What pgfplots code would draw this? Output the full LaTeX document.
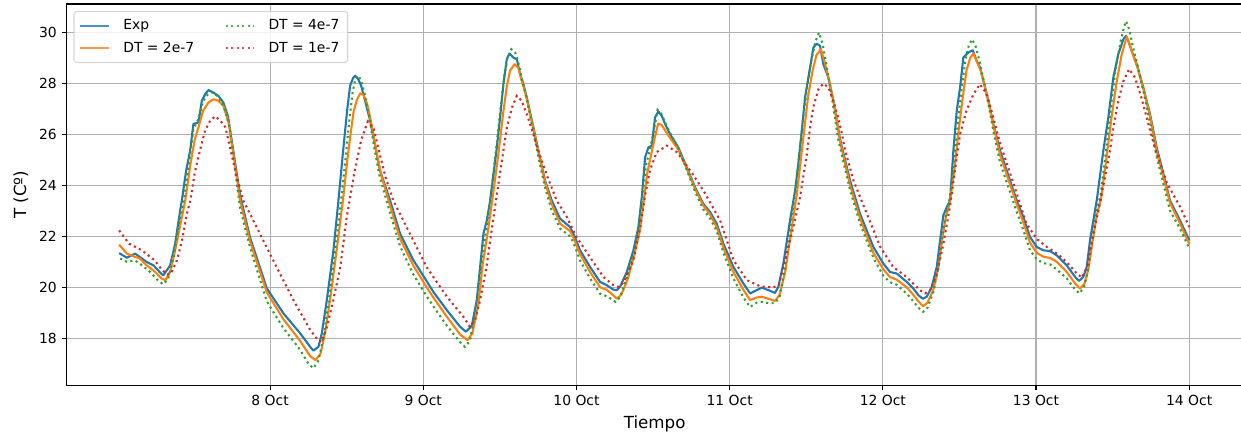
\documentclass[border=0pt]{standalone}
\usepackage{fontspec}
\setmainfont{DejaVu Sans}
\usepackage{pgfplots}
\usepackage{pgfplotstable}
\pgfplotsset{compat=1.18}
\definecolor{tabblue}{HTML}{1F77B4}
\definecolor{taborange}{HTML}{FF7F0E}
\definecolor{tabgreen}{HTML}{2CA02C}
\definecolor{tabred}{HTML}{D62728}
\definecolor{gridgray}{HTML}{B0B0B0}

% time in hours since 7 Oct 00:00, temperature in C
\pgfplotstableread{
h T
0.34 21.34
1.55 21.16
2.85 21.32
4.68 20.99
5.72 20.86
7.03 20.51
7.28 20.47
8.33 20.86
9.12 21.71
9.90 23.01
10.17 23.40
10.84 24.57
11.47 25.36
11.98 26.40
12.77 26.46
13.30 27.31
13.82 27.57
14.33 27.73
15.12 27.63
15.90 27.50
16.68 27.24
17.40 26.70
18.20 25.40
19.30 23.60
20.86 21.95
23.48 19.96
26.08 18.98
28.70 18.20
30.27 17.67
30.78 17.52
31.57 17.67
32.10 18.20
32.88 19.50
33.92 21.45
34.70 23.40
35.44 25.36
36.06 26.92
36.53 27.90
37.00 28.20
37.31 28.29
37.78 28.17
38.26 27.90
38.88 27.31
39.67 26.53
40.45 25.55
41.23 24.57
42.80 23.40
44.37 22.10
46.45 21.06
48.28 20.34
49.58 19.82
51.68 19.11
53.77 18.45
54.70 18.26
55.60 18.50
56.38 19.50
56.90 20.80
57.42 22.10
57.95 22.62
58.47 23.40
59.52 25.48
60.03 26.66
60.55 27.96
61.08 28.94
61.49 29.16
62.12 29.00
62.65 28.94
63.17 28.35
63.68 27.96
64.21 27.44
65.25 26.27
66.03 25.36
67.08 24.18
68.13 23.40
69.43 22.69
71.00 22.36
71.52 22.10
72.56 21.45
74.13 20.80
75.70 20.21
76.75 20.08
77.78 19.91
78.32 19.89
78.83 20.02
79.88 20.60
80.92 21.45
81.70 22.36
82.23 23.53
82.75 25.09
83.26 25.48
83.80 25.55
84.31 26.66
84.83 26.89
85.36 26.72
85.88 26.40
86.66 26.00
87.96 25.48
89.28 24.70
90.58 23.92
91.88 23.27
92.93 22.95
93.98 22.49
95.02 21.71
96.59 20.80
98.15 20.15
99.20 19.76
100.25 19.89
101.03 19.99
102.06 19.89
103.11 19.78
103.63 20.02
104.41 20.93
105.46 22.62
106.25 23.79
106.76 24.84
107.30 26.14
107.81 27.44
108.60 28.61
109.11 29.39
109.65 29.55
110.16 29.46
110.68 28.74
111.47 28.22
112.25 27.31
113.30 25.80
114.87 24.18
116.43 22.88
118.52 21.58
120.08 20.93
121.13 20.60
122.18 20.54
123.75 20.21
124.79 19.95
125.57 19.69
126.26 19.55
126.88 19.63
127.67 20.02
128.45 20.80
128.97 21.84
129.48 22.82
130.01 23.14
130.53 23.40
131.05 25.36
131.58 26.92
132.10 27.83
132.61 29.00
133.40 29.20
134.09 29.29
134.71 28.87
135.23 28.61
135.75 28.09
136.53 27.31
137.31 26.40
138.36 25.36
140.98 23.40
142.01 22.75
143.06 21.97
144.11 21.58
145.15 21.45
146.20 21.42
147.25 21.25
148.81 20.86
150.12 20.41
150.74 20.25
151.41 20.41
151.95 20.80
152.46 21.84
153.24 23.01
153.51 23.40
154.55 25.36
155.33 26.66
156.11 28.22
156.89 29.13
157.68 29.72
158.10 29.85
158.46 29.65
158.99 29.26
159.78 28.74
160.81 27.83
161.86 26.79
162.91 25.48
165.00 23.40
166.56 22.62
168.02 21.84
}\expdata

\pgfplotstableread{
h T
0.34 21.67
1.55 21.32
2.85 21.19
3.60 21.13
4.68 20.86
6.00 20.60
7.03 20.34
7.60 20.28
8.33 20.60
9.12 21.45
10.17 22.75
10.70 23.40
11.50 24.80
12.20 25.80
12.77 26.27
13.50 26.92
14.33 27.24
15.12 27.37
15.90 27.31
16.68 27.11
17.50 26.45
18.40 24.95
19.30 23.40
20.86 21.80
23.48 19.80
26.08 18.75
28.70 17.90
30.27 17.30
31.10 17.15
31.90 17.40
32.60 18.20
33.50 19.70
34.50 21.60
35.50 23.60
36.10 25.00
36.60 26.00
37.10 26.92
37.60 27.35
38.10 27.60
38.60 27.55
39.20 27.20
39.80 26.50
40.60 25.40
41.40 24.40
42.80 23.20
44.37 21.90
46.45 20.85
48.28 20.10
49.58 19.60
51.68 18.85
53.77 18.15
54.90 17.93
55.70 18.20
56.60 19.30
57.30 20.90
58.00 22.00
58.80 23.40
59.80 25.30
60.50 26.80
61.10 27.90
61.60 28.50
62.30 28.74
62.90 28.60
63.40 28.10
64.00 27.60
65.25 26.20
66.03 25.30
67.08 24.10
68.13 23.25
69.43 22.50
71.00 22.20
71.52 21.95
72.56 21.30
74.13 20.60
75.70 20.00
76.75 19.90
77.50 19.75
78.30 19.56
79.00 19.70
80.00 20.30
81.00 21.20
81.90 22.20
82.50 23.30
83.10 24.50
83.70 25.20
84.30 25.90
84.80 26.42
85.40 26.35
86.00 26.10
86.66 25.85
87.96 25.40
89.28 24.65
90.58 23.85
91.88 23.20
92.93 22.85
93.98 22.35
95.02 21.55
96.59 20.60
98.15 19.90
99.20 19.50
100.25 19.60
101.03 19.63
102.06 19.55
103.11 19.47
103.80 19.70
104.70 20.60
105.70 22.30
106.50 23.60
107.10 24.90
107.70 26.20
108.30 27.50
109.00 28.50
109.60 29.10
110.30 29.33
110.90 28.80
111.60 28.10
112.40 27.10
113.30 25.70
114.87 24.00
116.43 22.70
118.52 21.35
120.08 20.70
121.13 20.40
122.18 20.30
123.75 20.00
124.79 19.70
125.57 19.45
126.30 19.26
127.00 19.40
127.90 19.90
128.70 20.80
129.30 21.90
129.90 22.80
130.50 23.30
131.20 24.60
131.90 26.20
132.50 27.40
133.10 28.50
133.70 29.00
134.20 29.16
134.80 28.80
135.40 28.45
135.90 27.95
136.60 27.20
137.40 26.25
138.36 25.20
140.98 23.25
142.01 22.55
143.06 21.75
144.11 21.35
145.15 21.20
146.20 21.15
147.25 21.00
148.81 20.60
150.12 20.15
150.90 19.95
151.60 20.15
152.20 20.70
152.80 21.70
153.50 22.80
154.20 23.50
155.00 25.00
155.80 26.60
156.60 28.00
157.40 29.10
158.20 29.81
158.70 29.50
159.20 29.10
159.90 28.60
160.90 27.70
161.90 26.65
162.91 25.35
165.00 23.30
166.56 22.50
168.02 21.70
}\dtb

\pgfplotstableread{
h T
0.50 21.13
1.55 21.00
2.85 21.05
4.00 20.85
5.20 20.60
6.30 20.30
7.20 20.12
8.00 20.30
8.90 21.20
9.80 22.60
10.60 23.60
11.30 24.90
11.98 26.20
12.77 26.60
13.50 27.30
14.20 27.55
14.80 27.65
15.50 27.55
16.30 27.30
17.00 26.90
17.70 26.20
18.40 24.80
19.30 23.10
20.86 21.55
23.48 19.45
26.08 18.40
28.70 17.55
30.00 17.00
30.80 16.83
31.60 17.15
32.40 18.10
33.30 19.70
34.30 21.70
35.20 23.60
35.80 25.00
36.40 26.50
36.90 27.60
37.30 28.10
37.70 28.30
38.20 28.15
38.80 27.60
39.50 26.70
40.30 25.50
41.10 24.40
42.80 22.90
44.37 21.60
46.45 20.50
48.28 19.75
49.58 19.25
51.68 18.50
53.77 17.85
54.50 17.67
55.30 17.90
56.20 19.10
57.00 20.80
57.70 22.00
58.50 23.40
59.40 25.40
60.10 27.00
60.70 28.30
61.20 29.00
61.80 29.33
62.40 29.20
62.90 28.80
63.50 28.10
64.20 27.40
65.25 26.10
66.03 25.10
67.08 23.90
68.13 23.00
69.43 22.30
71.00 22.00
71.52 21.75
72.56 21.05
74.13 20.35
75.70 19.75
76.75 19.65
77.40 19.55
78.10 19.43
78.80 19.60
79.80 20.30
80.80 21.20
81.70 22.30
82.30 23.50
82.90 24.80
83.50 25.40
84.10 26.10
84.70 26.95
85.30 26.80
85.90 26.45
86.66 26.05
87.96 25.45
89.28 24.60
90.58 23.75
91.88 23.05
92.93 22.70
93.98 22.20
95.02 21.35
96.59 20.35
98.15 19.60
99.20 19.23
100.25 19.40
101.03 19.43
102.06 19.38
103.11 19.39
103.80 19.60
104.60 20.60
105.50 22.40
106.30 23.80
106.90 25.20
107.50 26.60
108.10 27.80
108.80 28.90
109.40 29.60
110.00 29.98
110.60 29.50
111.30 28.50
112.10 27.30
113.00 25.80
114.87 23.80
116.43 22.50
118.52 21.15
120.08 20.45
121.13 20.20
122.18 20.10
123.75 19.75
124.79 19.45
125.57 19.20
126.30 19.04
127.00 19.20
127.90 19.80
128.70 20.80
129.30 21.90
129.90 22.90
130.50 23.50
131.20 25.00
131.80 26.60
132.40 27.90
133.00 29.00
133.50 29.50
134.00 29.72
134.60 29.40
135.20 28.80
135.80 28.10
136.60 27.10
137.40 26.00
138.36 24.90
140.98 22.95
142.01 22.25
143.06 21.45
144.11 21.10
145.15 20.95
146.20 20.90
147.25 20.70
148.81 20.35
150.00 19.95
150.80 19.76
151.50 20.00
152.10 20.60
152.70 21.70
153.40 22.90
154.10 23.60
154.90 25.20
155.70 27.00
156.50 28.60
157.30 29.70
157.80 30.20
158.10 30.43
158.60 30.10
159.20 29.40
159.90 28.70
160.90 27.60
161.90 26.40
162.91 25.10
165.00 23.00
166.56 22.30
168.02 21.52
}\dtc

\pgfplotstableread{
h T
0.34 22.23
1.90 21.71
3.90 21.45
5.90 21.06
7.00 20.70
7.90 20.50
8.50 20.55
9.40 21.06
10.20 21.84
10.95 22.88
11.50 23.40
12.20 24.50
13.00 25.36
13.80 26.14
14.60 26.53
15.40 26.70
16.20 26.53
17.00 26.27
17.70 25.48
18.70 24.40
19.80 23.40
22.40 22.10
25.00 20.80
27.65 19.50
30.30 18.32
31.60 17.90
32.10 17.88
32.90 18.45
33.90 19.50
35.00 20.80
36.00 22.75
37.20 24.50
38.30 25.80
39.30 26.50
40.20 26.25
41.10 25.30
42.10 24.30
43.30 23.40
45.90 22.10
48.50 20.80
51.70 19.63
54.30 18.84
55.30 18.45
56.10 18.71
56.90 19.50
57.90 20.80
59.00 22.75
60.55 25.36
61.10 26.27
61.90 27.05
62.65 27.50
63.40 27.31
64.20 26.79
65.25 26.00
66.00 25.36
67.50 24.30
68.90 23.40
70.50 22.75
72.00 21.97
74.10 21.19
76.20 20.41
77.80 20.08
78.60 20.02
79.40 20.20
80.90 21.06
81.96 22.30
82.75 23.60
83.53 24.60
84.58 25.30
86.15 25.55
87.70 25.30
88.75 24.96
90.30 24.40
91.90 23.79
94.50 22.62
96.60 21.06
98.70 20.28
100.80 20.04
102.80 19.99
103.70 20.10
104.95 21.32
105.98 22.36
107.03 23.53
108.08 25.20
108.60 26.27
109.10 27.05
109.90 27.76
110.68 27.98
111.47 27.83
112.25 27.31
113.00 26.66
113.60 26.00
114.10 25.36
115.40 24.18
117.50 22.88
119.60 21.58
121.60 20.80
123.70 20.41
125.80 19.89
126.60 19.76
127.40 19.89
128.45 20.54
129.50 21.71
130.50 23.14
131.30 24.60
132.10 26.00
133.10 26.92
134.20 27.57
135.20 27.96
136.30 27.57
137.30 26.66
138.40 25.62
140.30 24.20
142.50 22.49
144.10 21.90
145.70 21.58
147.30 21.32
148.80 20.99
150.40 20.54
151.20 20.38
152.00 20.80
153.00 22.10
154.10 23.40
155.60 25.36
156.10 26.27
156.90 27.31
157.70 28.09
158.60 28.55
159.50 28.22
160.50 27.44
161.60 26.40
162.60 25.48
164.50 24.10
166.60 23.14
168.02 22.36
}\dtd

\begin{document}
\begin{tikzpicture}
\begin{axis}[
  name=ax,
  scale only axis,
  width=846.9pt, height=274.7pt,
  xmin=-7.9, xmax=176.4, ymin=16.15, ymax=31.1,
  xtick={24,48,72,96,120,144,168},
  xticklabels={8 Oct,9 Oct,10 Oct,11 Oct,12 Oct,13 Oct,14 Oct},
  ytick={18,20,22,24,26,28,30},
  tick pos=left,
  tick align=outside,
  major tick length=3.5pt,
  tick style={line width=0.8pt, black},
  grid=major,
  major grid style={line width=0.8pt, draw=gridgray},
  axis line style={line width=0.8pt},
  tick label style={font=\fontsize{10}{12}\selectfont},
  /pgf/number format/assume math mode=true,
  xlabel={Tiempo}, ylabel={T (Cº)},
  every axis x label/.style={at={(axis description cs:0.5,0)}, anchor=center, yshift=-27.9pt, font=\fontsize{12}{14}\selectfont},
  every axis y label/.style={at={(axis description cs:-0.0389,0.5)}, rotate=90, anchor=center, font=\fontsize{12}{14}\selectfont},
  legend columns=2,
  legend cell align=left,
  legend image code/.code={\draw[#1] (0pt,0pt) -- (20pt,0pt);},
  legend style={at={(0,1)}, anchor=north west, xshift=5pt, yshift=-5pt,
    draw=black!20, line width=0.8pt, rounded corners=2pt,
    fill=white, fill opacity=0.8, text opacity=1, draw opacity=0.8,
    font=\fontsize{10}{12}\selectfont,
    inner xsep=4pt, inner ysep=4pt, row sep=3pt,
    /tikz/every odd column/.append style={column sep=8pt},
    /tikz/every even column/.append style={column sep=20pt}},
]
\addplot[tabblue, line width=1.5pt, line join=round, forget plot] table[x=h,y=T] {\expdata};
\addplot[taborange, line width=1.5pt, line join=round, forget plot] table[x=h,y=T] {\dtb};
\addplot[tabgreen, line width=1.5pt, line cap=butt, dash pattern=on 1.5pt off 2.475pt, forget plot] table[x=h,y=T] {\dtc};
\addplot[tabred, line width=1.5pt, line cap=butt, dash pattern=on 1.5pt off 2.475pt, forget plot] table[x=h,y=T] {\dtd};
\addlegendimage{tabblue, line width=1.5pt, line cap=rect}
\addlegendentry{Exp}
\addlegendimage{tabgreen, line width=1.5pt, line cap=butt, dash pattern=on 1.5pt off 2.475pt}
\addlegendentry{DT = 4e-7}
\addlegendimage{taborange, line width=1.5pt, line cap=rect}
\addlegendentry{DT = 2e-7}
\addlegendimage{tabred, line width=1.5pt, line cap=butt, dash pattern=on 1.5pt off 2.475pt}
\addlegendentry{DT = 1e-7}
\end{axis}
\pgfresetboundingbox
\path ([xshift=-47.9pt,yshift=-36.4pt]ax.south west) rectangle ([xshift=-1.3pt,yshift=2.9pt]ax.north east);
\end{tikzpicture}
\end{document}
